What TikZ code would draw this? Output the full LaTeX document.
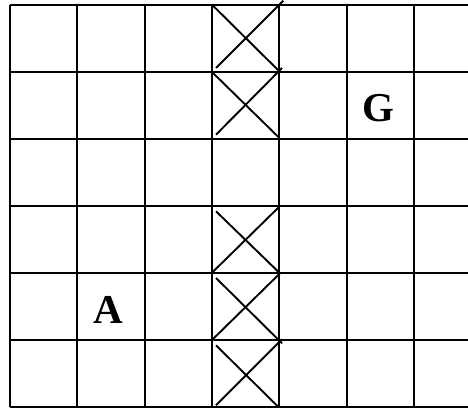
\documentclass[tikz,border=0pt]{standalone}
\usepackage{fontspec}
\setmainfont{Liberation Serif}
\usetikzlibrary{calc}

\begin{document}
\begin{tikzpicture}[
    x=1pt, y=-1pt,
    line width=1.9pt,
    letter/.style={font=\bfseries\fontsize{41}{41}\selectfont, inner sep=0pt} % Style for the cell letters
]

\useasboundingbox (0,0) rectangle (468,409);
\clip (0,0) rectangle (468,409);

% Grid sizes
\def\cw{67.33} % cell width
\def\ch{67.1}  % cell height
\coordinate (o) at (10,4.7); % top left corner

% Vertical lines
\foreach \i in {0,...,6}
    \draw ($(o)+(\i*\cw,0)$) -- ++(0,6*\ch);

% Horizontal lines (the last column runs off the page)
\foreach \j in {0,...,6}
    \draw ($(o)+(0,\j*\ch)$) -- ++(7*\cw,0);

% Crossed cells in the fourth column
\draw (212,4.7) -- (279.3,71.3);   \draw (216,68) -- (283.3,0.7);
\draw (212.7,72.7) -- (278.7,137.3); \draw (216,134.7) -- (282,68);
\draw (216,211.3) -- (279.3,272.7); \draw (212,272.7) -- (279.3,206.7);
\draw (216,278) -- (282,343.3);   \draw (212,340) -- (280,273.3);
\draw (216,345.3) -- (278.7,407.3); \draw (216,405.3) -- (282,339.3);

% Letters
\node[letter] (G) at (378.3,108.3) {G};
\node[letter] (A) at (108.3,310) {A};

\end{tikzpicture}
\end{document}
